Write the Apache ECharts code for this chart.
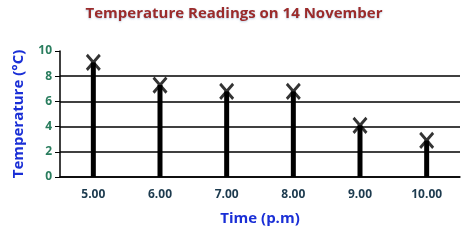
<!DOCTYPE html>
<html>
<head>
<meta charset="utf-8">
<script src="https://cdn.jsdelivr.net/npm/echarts@6/dist/echarts.min.js"></script>
<style>html,body{margin:0;padding:0;background:#fff;}#c{width:468px;height:241px;}</style>
</head>
<body>
<div id="c"></div>
<script>
var categories = ['5.00', '6.00', '7.00', '8.00', '9.00', '10.00'];
var temperatures = [9.1, 7.3, 6.8, 6.8, 4.1, 2.9];
var yTicks = [0, 2, 4, 6, 8, 10];

var chart = echarts.init(document.getElementById('c'), null, {renderer: 'canvas'});
chart.setOption({
  animation: false,
  backgroundColor: '#fff',
  title: {
    text: 'Temperature Readings on 14 November',
    left: 'center', top: 1,
    textStyle: {color: '#9b2b2b', fontSize: 15, fontWeight: 'bold', fontFamily: 'Open Sans',
      textShadowColor: 'rgba(120,160,200,0.5)', textShadowBlur: 2, textShadowOffsetY: 1}
  },
  grid: {left: 60, right: 8, top: 51, bottom: 64},
  xAxis: {
    type: 'category',
    data: categories,
    name: 'Time (p.m)',
    nameLocation: 'middle',
    nameGap: 34,
    nameTextStyle: {color: '#1a2fd6', fontSize: 15, fontWeight: 'bold', fontFamily: 'Open Sans'},
    axisLine: {lineStyle: {color: '#000', width: 1.5}},
    axisTick: {length: 5, lineStyle: {color: '#000', width: 1}},
    axisLabel: {color: '#1d3b4f', fontSize: 12, fontWeight: 'bold', fontFamily: 'Open Sans', margin: 12}
  },
  yAxis: {
    type: 'value',
    min: yTicks[0], max: yTicks[yTicks.length - 1], interval: 2,
    name: 'Temperature (°C)',
    nameLocation: 'middle',
    nameGap: 34,
    nameTextStyle: {color: '#1a2fd6', fontSize: 15, fontWeight: 'bold', fontFamily: 'Open Sans'},
    axisLine: {show: true, lineStyle: {color: '#000', width: 1.5}},
    axisTick: {show: true, length: 5, lineStyle: {color: '#000', width: 1}},
    axisLabel: {color: '#2a7d5e', fontSize: 12, fontWeight: 'bold', fontFamily: 'Open Sans', margin: 8},
    splitLine: {show: true, lineStyle: {color: ['#000', '#000', '#000', '#000', '#000', 'rgba(0,0,0,0)'], width: 1.5}}
  },
  series: [
    {
      type: 'bar',
      data: temperatures,
      barWidth: 5,
      itemStyle: {color: '#000'}
    },
    {
      type: 'scatter',
      data: temperatures,
      symbol: 'path://M0,0L10,12M10,0L0,12',
      symbolSize: [13, 15],
      itemStyle: {color: 'rgba(0,0,0,0)', borderColor: '#000', borderWidth: 3},
      z: 5
    }
  ]
});
</script>
</body>
</html>
